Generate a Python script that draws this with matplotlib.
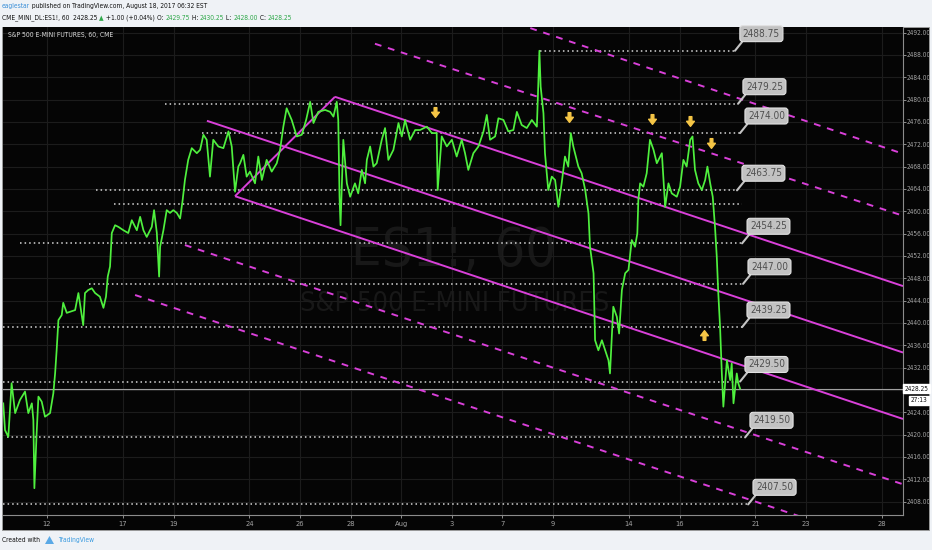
import matplotlib
matplotlib.use('Agg')
import matplotlib.pyplot as plt
import matplotlib.transforms as mtransforms
from matplotlib import font_manager
from matplotlib.path import Path
from matplotlib.patches import Rectangle, Polygon
import numpy as np

fonts = font_manager.fontManager.ttflist
have_cond = any(f.name == 'DejaVu Sans' and f.stretch == 'condensed' for f in fonts)
plt.rcParams['font.family'] = ['DejaVu Sans']
plt.rcParams['font.stretch'] = 'condensed'
K = 1.0 if have_cond else 0.85   # shrink text when no condensed face exists

# x = trading-day index (0 = Jul 12), y = ES1! price, hourly path
day = [
    -1.73, -1.66, -1.53, -1.40, -1.26, -1.07, -0.87, -0.74, -0.60, -0.54,
    -0.50, -0.41, -0.34, -0.21, -0.08, 0.12, 0.25, 0.32, 0.38, 0.45,
    0.58, 0.64, 0.78, 0.91, 1.11, 1.24, 1.37, 1.43, 1.50, 1.63,
    1.77, 1.90, 2.09, 2.23, 2.33, 2.40, 2.49, 2.56, 2.69, 2.82,
    3.02, 3.21, 3.35, 3.55, 3.68, 3.81, 3.94, 4.14, 4.23, 4.34,
    4.43, 4.47, 4.60, 4.73, 4.86, 4.99, 5.13, 5.26, 5.36, 5.45,
    5.58, 5.72, 5.92, 6.05, 6.18, 6.31, 6.44, 6.57, 6.77, 6.97,
    7.17, 7.30, 7.43, 7.56, 7.63, 7.76, 7.89, 8.02, 8.22, 8.35,
    8.49, 8.68, 8.88, 9.08, 9.21, 9.34, 9.47, 9.67, 9.87, 10.07,
    10.24, 10.40, 10.53, 10.72, 10.99, 11.19, 11.32, 11.45, 11.51, 11.56,
    11.60, 11.71, 11.85, 11.98, 12.17, 12.30, 12.44, 12.57, 12.64, 12.77,
    12.90, 13.03, 13.23, 13.36, 13.49, 13.69, 13.89, 14.02, 14.15, 14.35,
    14.55, 14.74, 15.01, 15.21, 15.40, 15.44, 15.60, 15.80, 16.00, 16.19,
    16.39, 16.52, 16.65, 16.85, 17.05, 17.25, 17.38, 17.51, 17.71, 17.84,
    18.04, 18.23, 18.43, 18.57, 18.76, 18.96, 19.16, 19.36, 19.46, 19.51,
    19.62, 19.68, 19.81, 19.95, 20.08, 20.21, 20.34, 20.47, 20.60, 20.70,
    20.80, 21.00, 21.13, 21.27, 21.40, 21.46, 21.60, 21.66, 21.79, 21.93,
    22.06, 22.19, 22.25, 22.38, 22.52, 22.61, 22.72, 22.85, 22.98, 23.11,
    23.24, 23.33, 23.37, 23.44, 23.57, 23.70, 23.83, 23.97, 24.10, 24.30,
    24.43, 24.56, 24.69, 24.89, 25.02, 25.15, 25.28, 25.42, 25.51, 25.61,
    25.74, 25.88, 26.01, 26.10, 26.21, 26.31, 26.40, 26.47, 26.53, 26.60,
    26.67, 26.73, 26.87, 27.00, 27.06, 27.13, 27.26, 27.32, 27.39,
]
price = [
    2425.6, 2420.8, 2419.6, 2429.2, 2423.85, 2426.2, 2427.7, 2423.85, 2425.6, 2422.6,
    2410.4, 2420.3, 2426.8, 2425.9, 2423.2, 2423.85, 2427.4, 2431.0, 2435.1, 2440.5,
    2441.4, 2443.6, 2441.8, 2442.0, 2442.3, 2445.35, 2441.4, 2439.6, 2445.35, 2445.9,
    2446.2, 2445.35, 2444.7, 2442.7, 2444.7, 2448.3, 2450.1, 2456.1, 2457.5, 2457.2,
    2456.6, 2456.1, 2458.4, 2456.6, 2459.0, 2456.6, 2455.4, 2457.2, 2460.2, 2456.1,
    2448.3, 2453.65, 2456.6, 2460.2, 2459.7, 2460.2, 2459.7, 2458.7, 2462.0, 2465.6,
    2469.2, 2471.3, 2470.4, 2471.0, 2473.7, 2472.8, 2466.2, 2472.8, 2471.6, 2471.3,
    2474.3, 2471.6, 2463.5, 2468.0, 2468.6, 2470.1, 2466.2, 2467.1, 2465.0, 2469.8,
    2465.6, 2469.2, 2467.1, 2468.6, 2471.0, 2475.15, 2478.45, 2476.35, 2473.4, 2473.7,
    2476.35, 2479.6, 2475.8, 2477.8, 2478.15, 2477.8, 2476.95, 2479.6, 2476.35, 2462.6,
    2457.5, 2472.8, 2465.0, 2462.6, 2465.0, 2463.2, 2467.4, 2465.0, 2469.2, 2471.6,
    2468.0, 2468.6, 2472.8, 2474.9, 2469.2, 2471.0, 2475.8, 2473.4, 2476.35, 2472.8,
    2474.55, 2474.55, 2475.15, 2474.0, 2474.0, 2463.8, 2473.4, 2471.6, 2472.8, 2469.8,
    2472.8, 2470.4, 2467.4, 2470.4, 2471.6, 2474.3, 2477.25, 2472.8, 2473.4, 2476.65,
    2476.35, 2474.3, 2474.55, 2477.8, 2475.45, 2474.9, 2476.35, 2475.15, 2488.75, 2482.3,
    2477.55, 2470.4, 2463.8, 2466.2, 2465.6, 2460.8, 2465.0, 2469.8, 2468.0, 2474.0,
    2471.6, 2468.0, 2466.8, 2463.8, 2459.6, 2453.65, 2448.9, 2436.9, 2435.1, 2436.9,
    2435.1, 2433.3, 2430.95, 2442.9, 2441.1, 2438.1, 2445.9, 2448.9, 2449.5, 2454.85,
    2453.65, 2456.05, 2462.0, 2465.0, 2464.4, 2466.8, 2472.8, 2471.0, 2468.6, 2470.4,
    2460.8, 2465.0, 2463.2, 2462.6, 2464.4, 2469.2, 2468.0, 2472.8, 2473.4, 2467.4,
    2465.0, 2463.8, 2465.6, 2468.0, 2465.0, 2462.6, 2457.2, 2451.85, 2445.3, 2439.3,
    2430.95, 2425.0, 2433.3, 2429.75, 2432.75, 2425.6, 2430.95, 2429.2, 2428.25,
]
last_price = 2428.25
countdown = '27:13'

tick_days = [0, 3, 5, 8, 10, 12, 14, 16, 18, 20, 23, 25, 28, 30, 33]
tick_names = ['12', '17', '19', '24', '26', '28', 'Aug', '3', '7', '9',
              '14', '16', '21', '23', '28']
price_ticks = np.arange(2408, 2493, 4)

# horizontal support / resistance levels
levels = [2488.75, 2479.25, 2474.00, 2463.75, 2461.25, 2454.25,
          2447.00, 2439.25, 2429.50, 2419.50, 2407.50]
level_start = [19.49, 4.66, 6.13, 1.94, 2.65, -1.07, 1.66, -1.74, -1.74, -1.58, -1.74]
level_end = [27.19, 27.31, 27.39, 27.27, 27.47, 27.47, 27.51, 27.47, 27.39, 27.59, 27.71]
level_tagged = [True, True, True, True, False, True, True, True, True, True, True]

# descending channel (solid) and outer trend lines (dashed)
solid_x = [[11.38, 33.83], [6.32, 33.83], [7.43, 33.83], [7.43, 11.38]]
solid_y = [[2480.5, 2446.6], [2476.2, 2434.7], [2462.7, 2422.8], [2462.7, 2480.5]]
dashed_x = [[19.1, 33.83], [12.96, 33.83], [5.45, 33.83], [3.48, 33.83]]
dashed_y = [[2492.8, 2470.3], [2490.0, 2459.2], [2453.95, 2411.1], [2445.0, 2399.2]]

down_day = [15.34, 20.63, 23.90, 25.42, 26.25]
down_price = [2477.85, 2476.95, 2476.5, 2476.2, 2472.2]
up_day = [25.97]
up_price = [2437.8]

BG = '#eff2f6'
PANEL = '#050505'
GREEN = '#4ff03e'
MAGENTA = '#d940d9'
YELLOW = '#f6c646'
AXTXT = '#a3a3a3'

W, H = 932, 550
fig = plt.figure(figsize=(W / 100, H / 100), dpi=100)
fig.patch.set_facecolor(BG)
fig.add_artist(Rectangle((2 / W, 1 - 530 / H), 927 / W, 503 / H, transform=fig.transFigure,
                         facecolor=PANEL, edgecolor='#9a9a9a', lw=0.7, zorder=0))

ax = fig.add_axes([3 / W, 35 / H, 900 / W, 488 / H])
ax.set_facecolor(PANEL)
ax.set_xlim(-1.74, 33.83)
ax.set_ylim(2405.6, 2493.0)

ax.set_xticks(tick_days)
ax.set_xticklabels(tick_names)
ax.set_yticks(price_ticks)
# the 2428 label sits under the live-price tag, as on the reference
ax.set_yticklabels(['' if abs(v - last_price) < 1 else '%.2f' % v for v in price_ticks])
ax.yaxis.tick_right()
ax.grid(True, color='#1c1c1c', lw=0.8, zorder=0)
ax.tick_params(axis='x', colors=AXTXT, labelsize=5.4 * K, length=2.5, width=0.6, pad=1.5)
ax.tick_params(axis='y', colors=AXTXT, labelsize=4.7 * K, length=2, width=0.6, pad=0.8)
for side in ['top', 'left']:
    ax.spines[side].set_visible(False)
for side in ['right', 'bottom']:
    ax.spines[side].set_color('#8c8c8c')
    ax.spines[side].set_linewidth(0.8)

# watermark
ax.text(0.501, 0.541, 'ES1!, 60', transform=ax.transAxes, ha='center', va='center',
        fontsize=39 * K, color='#181818', zorder=0.5)
ax.text(0.502, 0.432, 'S&P 500 E-MINI FUTURES', transform=ax.transAxes, ha='center',
        va='center', fontsize=19.5 * K, color='#181818', zorder=0.5)
ax.text(0.005, 0.983, 'S&P 500 E-MINI FUTURES, 60, CME', transform=ax.transAxes,
        ha='left', va='center', fontsize=4.9 * K, color='#dcdcdc')

# levels
ax.hlines(levels, level_start, level_end, colors='#d6d6d6', lw=1.1,
          linestyles=(0, (1, 2)), zorder=2)
for lv, x1, tag in zip(levels, level_end, level_tagged):
    if not tag:
        continue
    ax.annotate('%.2f' % lv, xy=(x1, lv), xytext=(19, 12.3), textcoords='offset points',
                ha='center', va='center', fontsize=7.2 * K, color='#505050', zorder=6,
                bbox=dict(boxstyle='round,pad=0.3', fc='#c2c2c2', ec='#e2e2e2', lw=0.8),
                arrowprops=dict(arrowstyle='-', color='#c4c4c4', lw=1.5,
                                shrinkA=0, shrinkB=0, relpos=(0.05, 0.0)))

# current price line
ax.axhline(last_price, color='#a0a0a0', lw=0.8, zorder=2)

# channel
for xs, ys in zip(solid_x, solid_y):
    ax.plot(xs, ys, color=MAGENTA, lw=1.4, zorder=3, solid_capstyle='butt')
for xs, ys in zip(dashed_x, dashed_y):
    ax.plot(xs, ys, color=MAGENTA, lw=1.4, ls=(0, (3.5, 3.5)), zorder=3)

# price
ax.plot(day, price, color=GREEN, lw=1.25, zorder=4)

# arrows
down_arrow = Path([(-0.28, 1), (0.28, 1), (0.28, 0.05), (0.8, 0.05), (0, -1),
                   (-0.8, 0.05), (-0.28, 0.05), (-0.28, 1)], closed=True)
up_arrow = Path([(x, -y) for x, y in down_arrow.vertices], closed=True)
ax.plot(down_day, down_price, ls='none', marker=down_arrow, ms=7, color=YELLOW,
        mec=YELLOW, zorder=5)
ax.plot(up_day, up_price, ls='none', marker=up_arrow, ms=7, color=YELLOW,
        mec=YELLOW, zorder=5)

# current price tags on the axis
blend = mtransforms.blended_transform_factory(ax.transAxes, ax.transData)
ax.annotate('%.2f' % last_price, xy=(1.0, last_price), xycoords=blend, xytext=(1.2, 0),
            textcoords='offset points', ha='left', va='center', fontsize=4.7 * K,
            color='#111111', zorder=7, annotation_clip=False,
            bbox=dict(boxstyle='square,pad=0.2', fc='white', ec='white'))
ax.annotate(countdown, xy=(1.0, last_price), xycoords=blend, xytext=(5.5, -8.4),
            textcoords='offset points', ha='left', va='center', fontsize=4.7 * K,
            color='#111111', zorder=7, annotation_clip=False,
            bbox=dict(boxstyle='square,pad=0.2', fc='white', ec='white'))

# header and footer
top = fig.add_axes([0, 0, 1, 1], facecolor='none')
top.set_axis_off()
top.set_xlim(0, W)
top.set_ylim(H, 0)

HS = 4.8 * K
t = top.text(2, 6, 'eaglestar', fontsize=HS, color='#3a8fd8', va='center', ha='left')
top.annotate(' published on TradingView.com, August 18, 2017 06:32 EST', xy=(1, 0.5),
             xycoords=t, va='center', ha='left', fontsize=HS, color='#111111')

GREEN_TXT = '#2fa84a'
parts = [('CME_MINI_DL:ES1!, 60  ', '#111111'), ('2428.25 ', '#111111'), ('\u25B2', GREEN_TXT),
         (' +1.00 (+0.04%) ', '#111111'), ('O: ', '#111111'), ('2429.75', GREEN_TXT),
         (' H: ', '#111111'), ('2430.25', GREEN_TXT), (' L: ', '#111111'),
         ('2428.00', GREEN_TXT), (' C: ', '#111111'), ('2428.25', GREEN_TXT)]
prev = None
for s, c in parts:
    if prev is None:
        prev = top.text(2, 18, s, fontsize=HS, color=c, va='center', ha='left')
    else:
        prev = top.annotate(s, xy=(1, 0.5), xycoords=prev, va='center', ha='left',
                            fontsize=HS, color=c)

t2 = top.text(2, 540, 'Created with', fontsize=HS, color='#111111', va='center', ha='left')
top.add_patch(Polygon([[45, 544], [49.5, 536], [54, 544]], closed=True, fc='#5aa9e6', ec='none'))
top.text(58, 540, 'TradingView', fontsize=HS, color='#3a9be0', va='center', ha='left')

fig.savefig('out.png', dpi=100, facecolor=BG)
